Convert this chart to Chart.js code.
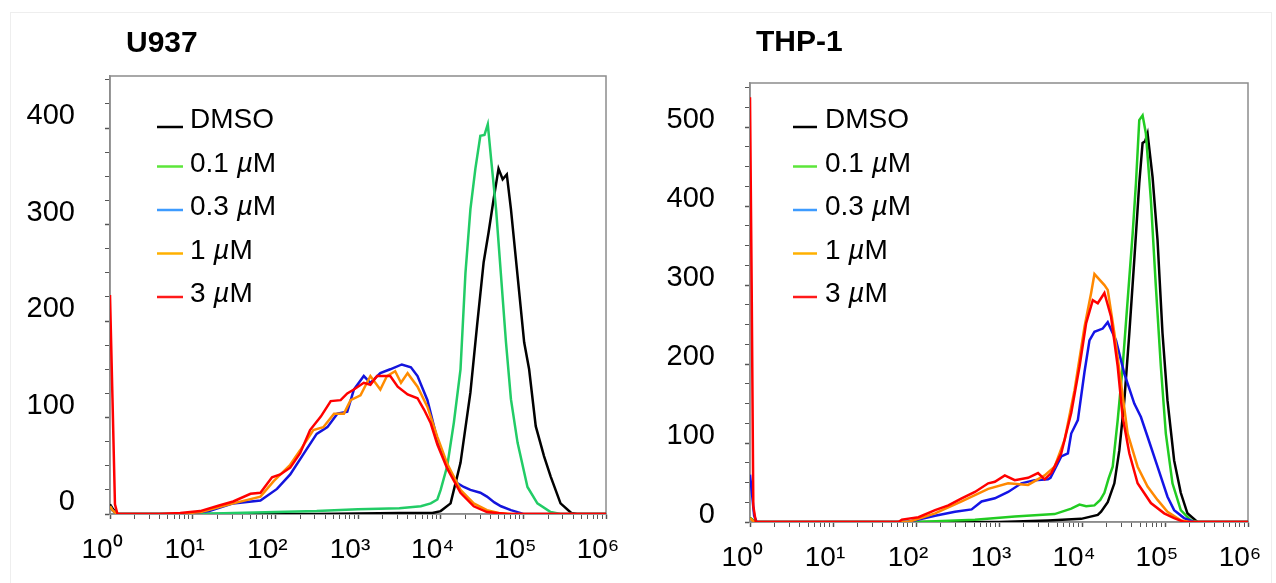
<!DOCTYPE html>
<html>
<head>
<meta charset="utf-8">
<script src="https://cdn.jsdelivr.net/npm/chart.js@4.4.0/dist/chart.umd.min.js"></script>
<style>
  html, body { margin: 0; padding: 0; background: #fff; }
  #wrap { position: relative; width: 1276px; height: 583px; overflow: hidden; }
  #frame { position: absolute; left: 10px; top: 12px; width: 1262px; height: 620px; border: 1px solid #eeeeee; box-sizing: border-box; }
  canvas { position: absolute; top: 0; }
</style>
</head>
<body>
<div id="wrap">
  <div id="frame"></div>
  <canvas id="u937" width="640" height="583" style="left:0"></canvas>
  <canvas id="thp1" width="636" height="583" style="left:640px"></canvas>
</div>
<script>
// labels, colours and ticks
const seriesLabels = ['DMSO', '0.1 µM', '0.3 µM', '1 µM', '3 µM'];
const legendColors = ['#000000', '#5ce63a', '#3d9bff', '#ffb000', '#ff1a1a'];
const u937Colors = ['#000000', '#22cc66', '#1414dc', '#ff8c00', '#ff0000'];
const thp1Colors = ['#000000', '#22cc22', '#1414e6', '#ff8800', '#ff0000'];
const decadeTicks = [1, 10, 100, 1000, 10000, 100000, 1000000];
const decadeLabels = ['10⁰', '10¹', '10²', '10³', '10⁴', '10⁵', '10⁶'];
const u937YTicks = [0, 100, 200, 300, 400];
const thp1YTicks = [0, 100, 200, 300, 400, 500];

// U937 histograms: x as log10(intensity), y as count
const u937DmsoLog = [0, 0.03, 0.08, 2.5, 3.5, 3.9, 4.0, 4.12, 4.24, 4.36, 4.44, 4.52, 4.58, 4.64, 4.70, 4.75, 4.80, 4.85, 4.93, 5.01, 5.07, 5.15, 5.25, 5.33, 5.45, 5.58, 5.65, 6.0];
const u937DmsoCount = [10, 6, 0, 0, 1, 1, 3, 11, 53, 126, 195, 261, 292, 326, 358, 347, 352, 316, 247, 178, 150, 91, 60, 39, 11, 1, 0, 0];

const u937P1Log = [0, 0.03, 0.08, 1.0, 2.0, 2.5, 3.0, 3.5, 3.76, 3.88, 3.96, 4.0, 4.08, 4.16, 4.24, 4.30, 4.36, 4.42, 4.48, 4.53, 4.57, 4.61, 4.67, 4.73, 4.79, 4.85, 4.93, 5.05, 5.17, 5.33, 5.45, 6.0];
const u937P1Count = [8, 4, 0, 0, 2, 3, 5, 6, 8, 11, 15, 25, 50, 95, 150, 250, 316, 358, 392, 393, 404, 368, 316, 247, 178, 119, 74, 28, 11, 2, 0, 0];

const u937P3Log = [0, 0.03, 0.08, 0.9, 1.2, 1.49, 1.82, 2.02, 2.18, 2.34, 2.50, 2.63, 2.75, 2.87, 2.95, 3.07, 3.15, 3.27, 3.39, 3.53, 3.64, 3.72, 3.84, 3.96, 4.08, 4.20, 4.28, 4.36, 4.48, 4.56, 4.65, 4.73, 4.85, 4.93, 5.0, 6.0];
const u937P3Count = [8, 4, 0, 0, 3, 11, 14, 26, 41, 62, 83, 90, 104, 106, 129, 143, 136, 146, 150, 155, 152, 143, 118, 77, 49, 32, 28, 25, 22, 18, 12, 8, 4, 2, 0, 0];

const u937U1Log = [0, 0.03, 0.08, 0.8, 1.1, 1.49, 1.82, 1.98, 2.18, 2.30, 2.46, 2.58, 2.71, 2.83, 2.91, 3.03, 3.15, 3.27, 3.35, 3.45, 3.52, 3.60, 3.72, 3.84, 3.96, 4.08, 4.24, 4.40, 4.56, 4.70, 4.85, 6.0];
const u937U1Count = [8, 4, 0, 0, 2, 11, 18, 34, 51, 66, 87, 90, 104, 104, 118, 123, 143, 129, 143, 148, 136, 146, 132, 111, 80, 52, 25, 11, 4, 1, 0, 0];

const u937U3Log = [0, 0.03, 0.06, 0.09, 0.6, 0.85, 1.09, 1.33, 1.49, 1.70, 1.82, 1.96, 2.06, 2.18, 2.30, 2.42, 2.55, 2.67, 2.79, 2.87, 2.95, 3.07, 3.15, 3.23, 3.39, 3.48, 3.60, 3.72, 3.80, 3.88, 3.96, 4.08, 4.24, 4.40, 4.56, 4.81, 6.0];
const u937U3Count = [227, 120, 10, 0, 0, 1, 3, 9, 13, 21, 22, 38, 41, 48, 63, 87, 101, 117, 118, 125, 129, 136, 134, 143, 143, 132, 124, 120, 108, 94, 72, 47, 22, 8, 2, 0, 0];

// THP-1 histograms
const thp1DmsoLog = [0, 0.03, 0.06, 3.0, 3.59, 3.99, 4.19, 4.23, 4.31, 4.39, 4.45, 4.51, 4.57, 4.63, 4.69, 4.73, 4.76, 4.79, 4.85, 4.91, 4.97, 5.03, 5.11, 5.19, 5.27, 5.39, 6.0];
const thp1DmsoCount = [5, 3, 0, 0, 2, 4, 9, 13, 25, 49, 91, 154, 239, 332, 429, 480, 482, 492, 437, 357, 239, 154, 78, 37, 11, 0, 0];

const thp1P1Log = [0, 0.03, 0.06, 2.0, 2.71, 3.19, 3.67, 3.87, 3.97, 4.05, 4.15, 4.22, 4.27, 4.32, 4.37, 4.43, 4.49, 4.55, 4.61, 4.65, 4.69, 4.73, 4.77, 4.83, 4.89, 4.95, 5.01, 5.09, 5.19, 5.31, 5.4, 6.0];
const thp1P1Count = [5, 3, 0, 0, 3, 7, 10, 17, 22, 20, 21, 28, 37, 55, 70, 129, 197, 281, 365, 429, 509, 515, 492, 408, 298, 197, 112, 49, 15, 2, 0, 0];

const thp1P3Log = [0, 0.02, 0.05, 0.08, 1.9, 2.23, 2.47, 2.67, 2.79, 2.95, 3.11, 3.27, 3.43, 3.59, 3.62, 3.75, 3.83, 3.87, 3.95, 4.03, 4.09, 4.15, 4.25, 4.31, 4.41, 4.51, 4.63, 4.71, 4.79, 4.91, 5.03, 5.11, 5.23, 5.35, 6.0];
const thp1P3Count = [60, 40, 8, 0, 0, 8, 13, 16, 26, 30, 38, 49, 53, 54, 56, 83, 87, 112, 129, 190, 230, 241, 245, 253, 230, 188, 150, 133, 108, 70, 32, 15, 5, 0, 0];

const thp1U1Log = [0, 0.02, 0.05, 1.9, 2.0, 2.23, 2.55, 2.87, 3.11, 3.35, 3.55, 3.67, 3.79, 3.91, 4.03, 4.11, 4.15, 4.27, 4.31, 4.39, 4.47, 4.55, 4.67, 4.79, 4.91, 5.03, 5.19, 5.3, 6.0];
const thp1U1Count = [5, 3, 0, 0, 3, 11, 26, 42, 49, 47, 59, 70, 104, 167, 247, 290, 314, 300, 294, 239, 176, 112, 70, 45, 28, 13, 2, 0, 0];

const thp1U3Log = [0, 0.02, 0.04, 0.07, 1.79, 1.83, 2.03, 2.23, 2.39, 2.55, 2.71, 2.87, 2.95, 3.07, 3.19, 3.35, 3.47, 3.55, 3.63, 3.75, 3.87, 3.97, 4.05, 4.13, 4.19, 4.27, 4.35, 4.43, 4.49, 4.57, 4.67, 4.83, 4.99, 5.11, 5.23, 6.0];
const thp1U3Count = [538, 300, 20, 0, 0, 3, 6, 15, 21, 30, 38, 49, 51, 59, 53, 56, 62, 54, 62, 87, 138, 197, 252, 281, 277, 290, 260, 197, 133, 87, 49, 24, 11, 5, 0, 0];

const FONT = '"Liberation Sans", Arial, Helvetica, sans-serif';

// frame, panel title and in-plot legend
const panelDecor = {
  id: 'panelDecor',
  beforeDatasetsDraw(chart) {
    const a = chart.chartArea, c = chart.ctx;
    c.save();
    c.strokeStyle = '#8c8c8c';
    c.lineWidth = 1.5;
    c.strokeRect(a.left, a.top, a.right - a.left, a.bottom - a.top);
    c.restore();
  },
  afterDraw(chart, args, o) {
    const c = chart.ctx;
    c.save();
    c.fillStyle = '#000';
    c.textBaseline = 'alphabetic';
    c.font = 'bold 30px ' + FONT;
    c.fillText(o.title, o.titleX, o.titleY);

    chart.data.datasets.forEach((ds, i) => {
      const base = o.legendTop + i * o.legendGap;
      const ly = base - (i === 0 ? 1 : 5);
      c.strokeStyle = legendColors[i];
      c.lineWidth = 2.5;
      c.beginPath();
      c.moveTo(o.lineX0, ly);
      c.lineTo(o.lineX1, ly);
      c.stroke();
      // µ is set in italic as in the figure
      let x = o.textX;
      ds.label.split(/(µ)/).forEach(part => {
        if (!part) return;
        c.font = (part === 'µ' ? 'italic ' : '') + '28px ' + FONT;
        c.fillText(part, x, base);
        x += c.measureText(part).width;
      });
    });
    c.restore();
  }
};

function makeSeries(logs, counts, color, idx) {
  return {
    label: seriesLabels[idx],
    data: logs.map((e, k) => ({ x: Math.pow(10, e), y: counts[k] })),
    borderColor: color,
    borderWidth: 2.5,
    pointRadius: 0,
    tension: 0,
    fill: false,
    order: 4 - idx
  };
}

function makeChart(id, datasets, yTicks, yMax, yLabelShift, layout, deco) {
  const labeled = new Set(yTicks);
  return new Chart(document.getElementById(id), {
    type: 'line',
    data: { datasets },
    options: {
      responsive: false,
      animation: false,
      devicePixelRatio: 1,
      layout: { padding: layout },
      scales: {
        x: {
          type: 'logarithmic',
          min: 1,
          max: 1000000,
          afterBuildTicks: s => {
            const t = [];
            decadeTicks.forEach((d, k) => {
              t.push({ value: d });
              if (k < decadeTicks.length - 1) for (let m = 2; m < 10; m++) t.push({ value: d * m });
            });
            s.ticks = t;
          },
          afterFit: s => {
            s.height = 50;
            s.paddingLeft = 0;
            s.paddingRight = 0;
          },
          ticks: {
            autoSkip: false,
            maxRotation: 0,
            padding: 14,
            labelOffset: -8,
            color: '#000',
            font: { family: FONT, size: 28 },
            callback: v => {
              const k = decadeTicks.indexOf(v);
              return k >= 0 ? decadeLabels[k] : '';
            }
          },
          grid: {
            drawOnChartArea: false,
            tickLength: 5,
            tickColor: '#555',
            tickWidth: c => (c.tick && decadeTicks.includes(c.tick.value) ? 1.5 : 1)
          },
          border: { display: true, color: '#8c8c8c', width: 1.5 }
        },
        y: {
          min: 0,
          max: yMax,
          afterBuildTicks: s => {
            const t = [];
            for (let v = 0; v <= yMax; v += 25) t.push({ value: v });
            s.ticks = t;
          },
          afterFit: s => {
            s.width = 85;
            s.paddingTop = 0;
            s.paddingBottom = 0;
          },
          ticks: {
            autoSkip: false,
            padding: 30,
            labelOffset: yLabelShift,
            color: '#000',
            font: { family: FONT, size: 29 },
            callback: v => (labeled.has(v) ? String(v) : '')
          },
          grid: {
            drawOnChartArea: false,
            tickLength: 5,
            tickColor: '#555',
            tickWidth: c => (c.tick && labeled.has(c.tick.value) ? 1.5 : 1)
          },
          border: { display: true, color: '#8c8c8c', width: 1.5 }
        }
      },
      plugins: {
        legend: { display: false },
        tooltip: { enabled: false },
        panelDecor: deco
      }
    },
    plugins: [panelDecor]
  });
}

makeChart('u937', [
  makeSeries(u937DmsoLog, u937DmsoCount, u937Colors[0], 0),
  makeSeries(u937P1Log, u937P1Count, u937Colors[1], 1),
  makeSeries(u937P3Log, u937P3Count, u937Colors[2], 2),
  makeSeries(u937U1Log, u937U1Count, u937Colors[3], 3),
  makeSeries(u937U3Log, u937U3Count, u937Colors[4], 4)
], u937YTicks, 454, -12,
  { left: 25, top: 76, right: 34, bottom: 19 },
  { title: 'U937', titleX: 126, titleY: 52, lineX0: 157, lineX1: 183, textX: 190, legendTop: 128, legendGap: 43.5 });

makeChart('thp1', [
  makeSeries(thp1DmsoLog, thp1DmsoCount, thp1Colors[0], 0),
  makeSeries(thp1P1Log, thp1P1Count, thp1Colors[1], 1),
  makeSeries(thp1P3Log, thp1P3Count, thp1Colors[2], 2),
  makeSeries(thp1U1Log, thp1U1Count, thp1Colors[3], 3),
  makeSeries(thp1U3Log, thp1U3Count, thp1Colors[4], 4)
], thp1YTicks, 556, -7,
  { left: 25, top: 83, right: 28, bottom: 11 },
  { title: 'THP-1', titleX: 116, titleY: 51, lineX0: 153, lineX1: 177, textX: 185, legendTop: 128, legendGap: 43.5 });
</script>
</body>
</html>
